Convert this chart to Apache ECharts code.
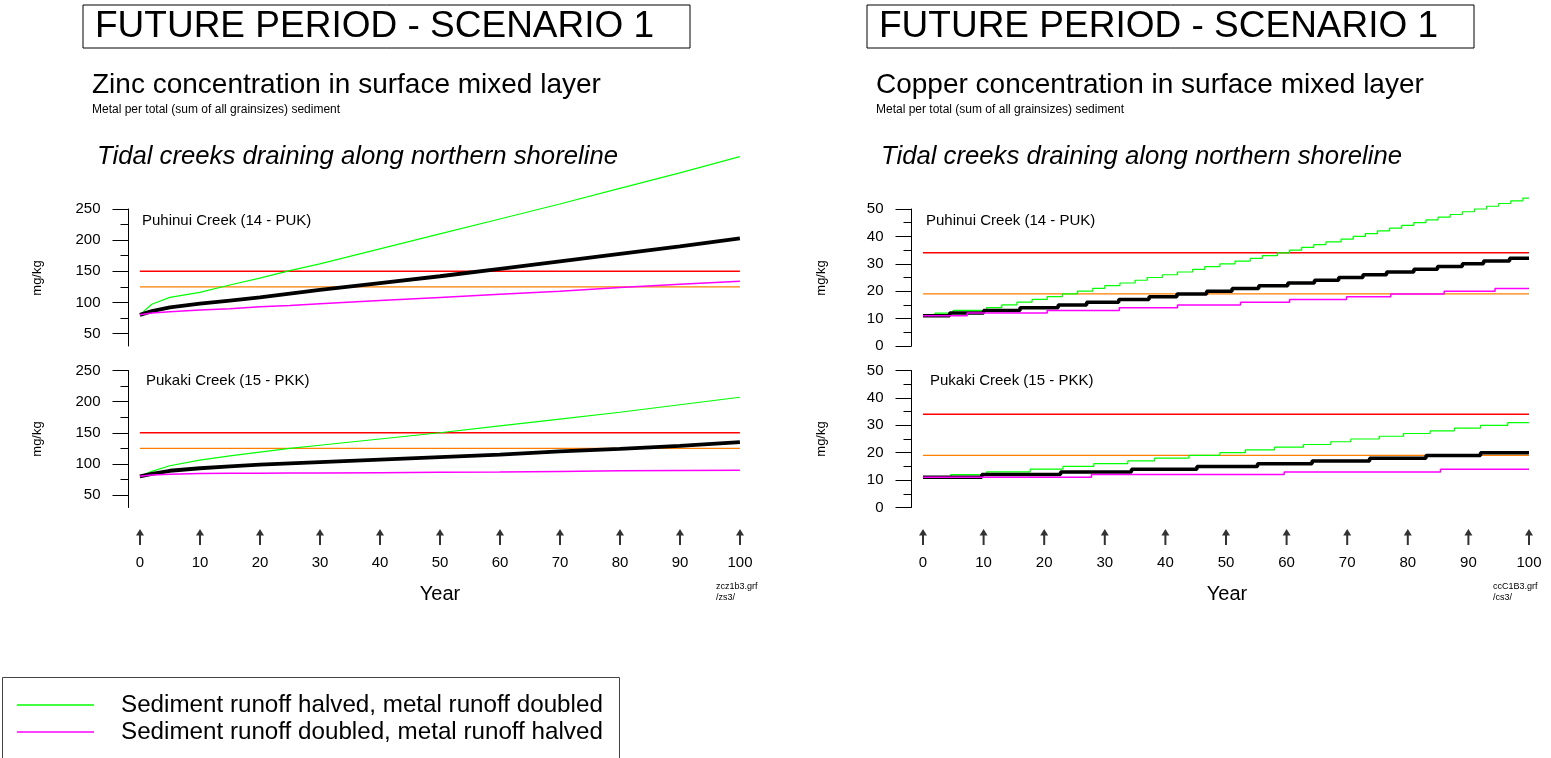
<!DOCTYPE html>
<html><head><meta charset="utf-8">
<script src="https://cdn.jsdelivr.net/npm/echarts@6/dist/echarts.min.js"></script>
<style>html,body{margin:0;padding:0;background:#fff}#c{width:1551px;height:758px}</style>
</head><body><div id="c"></div>
<script>
// ---------------- DATA ----------------
const yearTicks = [0, 10, 20, 30, 40, 50, 60, 70, 80, 90, 100];
const znTicksMajor = [50, 100, 150, 200, 250];
const znTicksMinor = [75, 125, 175, 225];
const cuTicksMajor = [0, 10, 20, 30, 40, 50];
const cuTicksMinor = [5, 15, 25, 35, 45];

const greenName = 'Sediment runoff halved, metal runoff doubled';
const magentaName = 'Sediment runoff doubled, metal runoff halved';

// Zinc (smooth curves), sampled years
const znYears        = [0, 2, 5, 10, 15, 20, 25, 30, 40, 50, 60, 70, 80, 90, 100];
const znPukGreen     = [80, 97, 108, 116, 128, 139, 151, 162, 186, 210, 234, 258, 283, 308, 334];
const znPukBlack     = [80, 86, 92, 98, 103, 108, 114, 120, 131, 142, 154, 166, 178, 190, 203];
const znPukMagenta   = [80, 83, 85, 88, 90, 93, 95, 98, 103, 108, 113, 118, 124, 129, 134];
const znPkkGreen     = [80, 88, 97, 106, 113, 119, 125, 130, 140, 150, 161, 172, 183, 195, 207];
const znPkkBlack     = [80, 84, 89, 93, 96, 99, 101, 103, 107, 111, 115, 120, 124, 129, 135];
const znPkkMagenta   = [80, 82, 83.5, 84.5, 85, 85, 85.5, 85.5, 86, 86.5, 87, 88, 89, 89.5, 90];
const znRed = 150, znOrange = 125;

// Copper (stepped): [year where level starts, level]
const cuPukGreen = [[0,11],[2,12],[5,13],[10.5,14],[13,15],[15.5,16],[18,17],[20.5,18],[23,19],[25.5,20],[28,21],[30,22],[32.5,23],[35,24],[37,25],[39.5,26],[42,27],[44.5,28],[46.5,29],[49,30],[51.5,31],[54,32],[56,33],[58.5,34],[60.5,35],[62.5,36],[64.5,37],[66.5,38],[69,39],[71,40],[73,41],[75,42],[77,43],[79,44],[81,45],[83,46],[85,47],[87,48],[89,49],[91,50],[93,51],[95,52],[97,53],[99,54],[100,54]];
const cuPukBlack = [[0,11],[4.4,12],[10,13],[16,14],[22.3,15],[27,16],[32.3,17],[37.3,18],[41.9,19],[46.8,20],[51,21],[55.4,22],[60.2,23],[64.6,24],[68.6,25],[72.6,26],[76.5,27],[81,28],[84.9,29],[89,30],[92.5,31],[96.8,32],[100,32]];
const cuPukMagenta = [[0,11],[7.3,12],[20.5,13],[32.4,14],[42,15],[52.4,16],[60.5,17],[69.9,18],[77.2,19],[86,20],[94.4,21],[100,21]];
const cuPkkGreen = [[0,11],[4.6,12],[10.5,13],[17.7,14],[23.1,15],[28.2,16],[33.8,17],[38.2,18],[43.9,19],[49,20],[53.2,21],[58,22],[62.8,23],[67.3,24],[70.6,25],[75.3,26],[79.3,27],[83.7,28],[87.7,29],[92,30],[96.5,31],[100,31]];
const cuPkkBlack = [[0,11],[9.7,12],[22.7,13],[34.4,14],[45.2,15],[55.2,16],[64.2,17],[73.7,18],[83,19],[92,20],[100,20]];
const cuPkkMagenta = [[0,11],[27.8,12],[59.6,13],[85.4,14],[100,14]];
const cuRed = 34, cuOrange = 19;

// ---------------- BUILD ----------------
const FONT = '"Liberation Sans", Arial, Helvetica, sans-serif';
const pair = (xs, ys) => xs.map((x, i) => [x, ys[i]]);
const flat = v => [[0, v], [100, v]];

const grids = [
  {left: 128.5, top: 209, width: 611.4, height: 137},
  {left: 128.5, top: 370.5, width: 611.4, height: 137},
  {left: 911.5, top: 209, width: 617.5, height: 137},
  {left: 911.5, top: 370.5, width: 617.5, height: 137},
  {left: 140, top: 528, width: 600, height: 18},
  {left: 923, top: 528, width: 606, height: 18}
].map(g => Object.assign({outerBoundsMode: 'none', containLabel: false, show: false}, g));

const xAxes = grids.map((g, i) => i < 4 ? ({
  gridIndex: i, type: 'value', min: -1.9, max: 100, show: false,
  axisLine: {show: false}, axisTick: {show: false}, splitLine: {show: false}, axisLabel: {show: false}
}) : ({
  gridIndex: i, type: 'value', min: 0, max: 100, interval: 10, show: true,
  axisLine: {show: false}, axisTick: {show: false}, splitLine: {show: false},
  axisLabel: {show: true, fontSize: 15, color: '#000', fontFamily: FONT, margin: 9}
}));

function yPair(gridIndex, min, max, major, minor) {
  return [
    {gridIndex, type: 'value', min, max, position: 'left',
     axisLine: {show: true, onZero: false, lineStyle: {color: '#000', width: 1}},
     axisTick: {show: true, length: 16, customValues: major, lineStyle: {color: '#000', width: 1}},
     axisLabel: {show: true, customValues: major, fontSize: 15, color: '#000', fontFamily: FONT, margin: 28},
     splitLine: {show: false}},
    {gridIndex, type: 'value', min, max, position: 'left',
     axisLine: {show: false, onZero: false},
     axisTick: {show: true, length: 8, customValues: minor, lineStyle: {color: '#000', width: 1}},
     axisLabel: {show: false}, splitLine: {show: false}}
  ];
}
const yAxes = [
  ...yPair(0, 30, 250, znTicksMajor, znTicksMinor),
  ...yPair(1, 30, 250, znTicksMajor, znTicksMinor),
  ...yPair(2, 0, 50, cuTicksMajor, cuTicksMinor),
  ...yPair(3, 0, 50, cuTicksMajor, cuTicksMinor),
  {gridIndex: 4, type: 'value', min: 0, max: 1, show: false},
  {gridIndex: 5, type: 'value', min: 0, max: 1, show: false}
];

function ln(name, panel, data, color, width, step, z) {
  return {type: 'line', name, xAxisIndex: panel, yAxisIndex: panel * 2, data,
    symbol: 'none', showSymbol: false, step: step ? 'end' : false, clip: false,
    lineStyle: {color, width}, itemStyle: {color}, z, silent: true, animation: false};
}
const RED = '#ff0000', ORANGE = '#ff7f00', GREEN = '#00ff00', MAG = '#ff00ff', BLK = '#000000';

const series = [
  ln('Zn red', 0, flat(znRed), RED, 1.5, false, 1),
  ln('Zn orange', 0, flat(znOrange), ORANGE, 1.2, false, 1),
  ln(greenName, 0, pair(znYears, znPukGreen), GREEN, 1.2, false, 2),
  ln('Zn base PUK', 0, pair(znYears, znPukBlack), BLK, 3.8, false, 3),
  ln(magentaName, 0, pair(znYears, znPukMagenta), MAG, 1.5, false, 4),

  ln('Zn red', 1, flat(znRed), RED, 1.5, false, 1),
  ln('Zn orange', 1, flat(znOrange), ORANGE, 1.2, false, 1),
  ln(greenName, 1, pair(znYears, znPkkGreen), GREEN, 1.2, false, 2),
  ln('Zn base PKK', 1, pair(znYears, znPkkBlack), BLK, 3.8, false, 3),
  ln(magentaName, 1, pair(znYears, znPkkMagenta), MAG, 1.5, false, 4),

  ln('Cu red', 2, flat(cuRed), RED, 1.5, false, 1),
  ln('Cu orange', 2, flat(cuOrange), ORANGE, 1.2, false, 1),
  ln(greenName, 2, cuPukGreen, GREEN, 1.2, true, 2),
  ln('Cu base PUK', 2, cuPukBlack, BLK, 3.5, true, 3),
  ln(magentaName, 2, cuPukMagenta, MAG, 1.5, true, 4),

  ln('Cu red', 3, flat(cuRed), RED, 1.5, false, 1),
  ln('Cu orange', 3, flat(cuOrange), ORANGE, 1.2, false, 1),
  ln(greenName, 3, cuPkkGreen, GREEN, 1.2, true, 2),
  ln('Cu base PKK', 3, cuPkkBlack, BLK, 3.5, true, 3),
  ln(magentaName, 3, cuPkkMagenta, MAG, 1.5, true, 4)
];

const arrowPath = 'path://M4,0 L8,7 L5,7 L5,17 L3,17 L3,7 L0,7 Z';
[4, 5].forEach(g => series.push({
  type: 'scatter', xAxisIndex: g, yAxisIndex: 8 + (g - 4),
  data: yearTicks.map(t => [t, 0.5]), symbol: arrowPath, symbolSize: [8, 16],
  itemStyle: {color: '#000'}, silent: true, animation: false
}));

function txt(x, y, text, size, opts) {
  return Object.assign({type: 'text', x, y, silent: true,
    style: Object.assign({text, fontSize: size, fontFamily: FONT, fill: '#000', verticalAlign: 'middle', align: 'left'}, (opts && opts.style) || {})},
    opts && opts.rotation ? {rotation: opts.rotation} : {});
}
const graphics = [];
[0, 784].forEach((dx, k) => {
  graphics.push({type: 'rect', silent: true, shape: {x: 83 + dx, y: 5, width: 607, height: 43},
    style: {fill: 'none', stroke: '#000', lineWidth: 1}});
  graphics.push(txt(95 + dx, 27, 'FUTURE PERIOD - SCENARIO 1', 37));
  graphics.push(txt(92 + dx, 85, k === 0 ? 'Zinc concentration in surface mixed layer' : 'Copper concentration in surface mixed layer', 28));
  graphics.push(txt(92 + dx, 110, 'Metal per total (sum of all grainsizes) sediment', 12));
  graphics.push(txt(97 + dx, 157, 'Tidal creeks draining along northern shoreline', 25.7, {style: {fontStyle: 'italic'}}));
  graphics.push(txt(142 + dx, 221, 'Puhinui Creek (14 - PUK)', 15));
  graphics.push(txt(146 + dx, 381, 'Pukaki Creek (15 - PKK)', 15));
  graphics.push(txt(37 + dx, 278, 'mg/kg', 13, {rotation: Math.PI / 2, style: {align: 'center'}}));
  graphics.push(txt(37 + dx, 439, 'mg/kg', 13, {rotation: Math.PI / 2, style: {align: 'center'}}));
  graphics.push(txt(440 + dx + (k ? 3 : 0), 594, 'Year', 20, {style: {align: 'center'}}));
  graphics.push(txt(k ? 1493 : 716, 587, k === 0 ? 'zcz1b3.grf' : 'ccC1B3.grf', 9));
  graphics.push(txt(k ? 1493 : 716, 598, k === 0 ? '/zs3/' : '/cs3/', 9));
});
// legend frame (bottom edge runs off the page, as in the original)
graphics.push({type: 'rect', silent: true, z: -1, shape: {x: 2.5, y: 677.5, width: 617, height: 120},
  style: {fill: 'none', stroke: '#444', lineWidth: 1}});

const option = {
  backgroundColor: '#fff',
  animation: false,
  textStyle: {fontFamily: FONT},
  grid: grids,
  xAxis: xAxes,
  yAxis: yAxes,
  series,
  legend: {
    show: true, orient: 'vertical', left: 2, top: 679,
    data: [greenName, magentaName], selectedMode: false,
    icon: 'rect', itemWidth: 77, itemHeight: 1.5, itemGap: 3,
    textStyle: {fontSize: 24.2, color: '#000', fontFamily: FONT, padding: [0, 0, 0, 22]},
    borderWidth: 0, padding: [14, 15, 14, 15]
  },
  graphic: graphics
};
const chart = echarts.init(document.getElementById('c'), null, {renderer: 'canvas'});
chart.setOption(option);
</script>
</body></html>
